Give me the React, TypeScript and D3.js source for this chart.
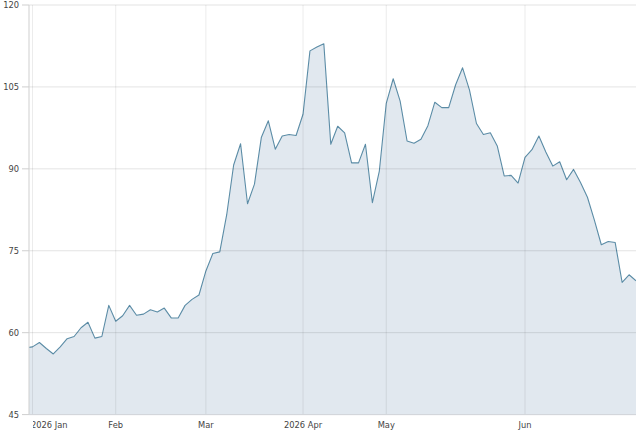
import React, { useRef, useEffect } from 'react';
import * as d3 from 'd3';

// one value per sample, first one sits just left of the axis (clipped)
const prices = [
  57.2, 57.4, 58.2, 57.1, 56.1, 57.4, 58.9, 59.3, 60.9, 61.9,
  59.0, 59.3, 65.0, 62.1, 63.1, 65.0, 63.2, 63.4, 64.2, 63.8,
  64.5, 62.7, 62.7, 65.0, 66.1, 66.9, 71.3, 74.5, 74.8, 81.6,
  90.7, 94.6, 83.6, 87.2, 95.8, 98.8, 93.6, 96.0, 96.3, 96.1,
  100.0, 111.6, 112.3, 112.9, 94.5, 97.8, 96.6, 91.1, 91.1, 94.5,
  83.8, 89.6, 102.0, 106.5, 102.4, 95.1, 94.7, 95.4, 97.9, 102.2,
  101.2, 101.2, 105.4, 108.5, 104.4, 98.3, 96.3, 96.6, 94.2, 88.7,
  88.8, 87.4, 92.1, 93.5, 96.0, 93.1, 90.5, 91.3, 88.0, 89.9,
  87.5, 84.8, 80.6, 76.1, 76.7, 76.5, 69.2, 70.6, 69.5,
];

const monthIndex = [1, 13, 26, 40, 52, 72];
const monthLabels = ['2026 Jan', 'Feb', 'Mar', '2026 Apr', 'May', 'Jun'];
const yTicks = [45, 60, 75, 90, 105, 120];

const App: React.FC = () => {
  const svgRef = useRef<SVGSVGElement>(null);

  useEffect(() => {
    if (!svgRef.current) return;
    const width = 640;
    const height = 430;
    const left = 29, right = 636, top = 5, bottom = 414.6;

    const svg = d3.select(svgRef.current)
      .attr('width', width)
      .attr('height', height);
    svg.selectAll('*').remove();

    const x = d3.scaleLinear().domain([0.5, prices.length - 1]).range([left, right]);
    const y = d3.scaleLinear().domain([45, 120]).range([bottom, top]);

    const defs = svg.append('defs');
    defs.append('clipPath').attr('id', 'plot-clip')
      .append('rect')
      .attr('x', left).attr('y', top)
      .attr('width', right - left).attr('height', bottom - top);
    defs.append('clipPath').attr('id', 'label-clip')
      .append('rect')
      .attr('x', 33).attr('y', 0)
      .attr('width', width).attr('height', height);

    const plot = svg.append('g').attr('clip-path', 'url(#plot-clip)');

    const area = d3.area<number>()
      .x((_, i) => x(i))
      .y0(y(45))
      .y1(d => y(d));
    const line = d3.line<number>()
      .x((_, i) => x(i))
      .y(d => y(d));

    plot.append('path')
      .datum(prices)
      .attr('d', area)
      .attr('fill', '#e1e8ef');

    // grid on top of the fill
    const grid = svg.append('g');
    grid.selectAll('.hgrid')
      .data(yTicks)
      .enter()
      .append('line')
      .attr('x1', left).attr('x2', right)
      .attr('y1', d => y(d)).attr('y2', d => y(d))
      .attr('stroke', 'rgba(0,0,0,0.11)')
      .attr('stroke-width', 1);
    grid.selectAll('.vgrid')
      .data(monthIndex)
      .enter()
      .append('line')
      .attr('x1', d => x(d)).attr('x2', d => x(d))
      .attr('y1', top).attr('y2', bottom)
      .attr('stroke', 'rgba(0,0,0,0.08)')
      .attr('stroke-width', 1);

    plot.append('path')
      .datum(prices)
      .attr('d', line)
      .attr('fill', 'none')
      .attr('stroke', '#5b8ca6')
      .attr('stroke-width', 1.1)
      .attr('stroke-linejoin', 'round');

    // axes
    svg.append('line')
      .attr('x1', left).attr('x2', left)
      .attr('y1', top).attr('y2', bottom)
      .attr('stroke', '#cfcfcf');
    svg.append('line')
      .attr('x1', left).attr('x2', right)
      .attr('y1', bottom).attr('y2', bottom)
      .attr('stroke', '#d2d6da');

    const yAxis = svg.append('g');
    yAxis.selectAll('.tick')
      .data(yTicks)
      .enter()
      .append('line')
      .attr('x1', 22).attr('x2', left)
      .attr('y1', d => y(d)).attr('y2', d => y(d))
      .attr('stroke', '#cfcfcf');
    yAxis.selectAll('text')
      .data(yTicks)
      .enter()
      .append('text')
      .attr('x', 19)
      .attr('y', d => y(d))
      .attr('dy', '0.35em')
      .attr('text-anchor', 'end')
      .attr('font-family', 'DejaVu Sans')
      .attr('font-size', 8.3)
      .attr('fill', '#444')
      .text(d => d);

    const xAxis = svg.append('g');
    xAxis.selectAll('text')
      .data(monthIndex)
      .enter()
      .append('text')
      .attr('x', (d, i) => i === 0 ? 31 : x(d))
      .attr('y', 428)
      .attr('text-anchor', (_, i) => i === 0 ? 'start' : 'middle')
      .attr('clip-path', (_, i) => i === 0 ? 'url(#label-clip)' : null)
      .attr('font-family', 'DejaVu Sans')
      .attr('font-size', 8.3)
      .attr('fill', '#444')
      .text((_, i) => monthLabels[i]);
  }, []);

  return (
    <div style={{ position: 'absolute', left: 0, top: 0 }}>
      <svg ref={svgRef} style={{ display: 'block' }} />
    </div>
  );
};

export default App;
